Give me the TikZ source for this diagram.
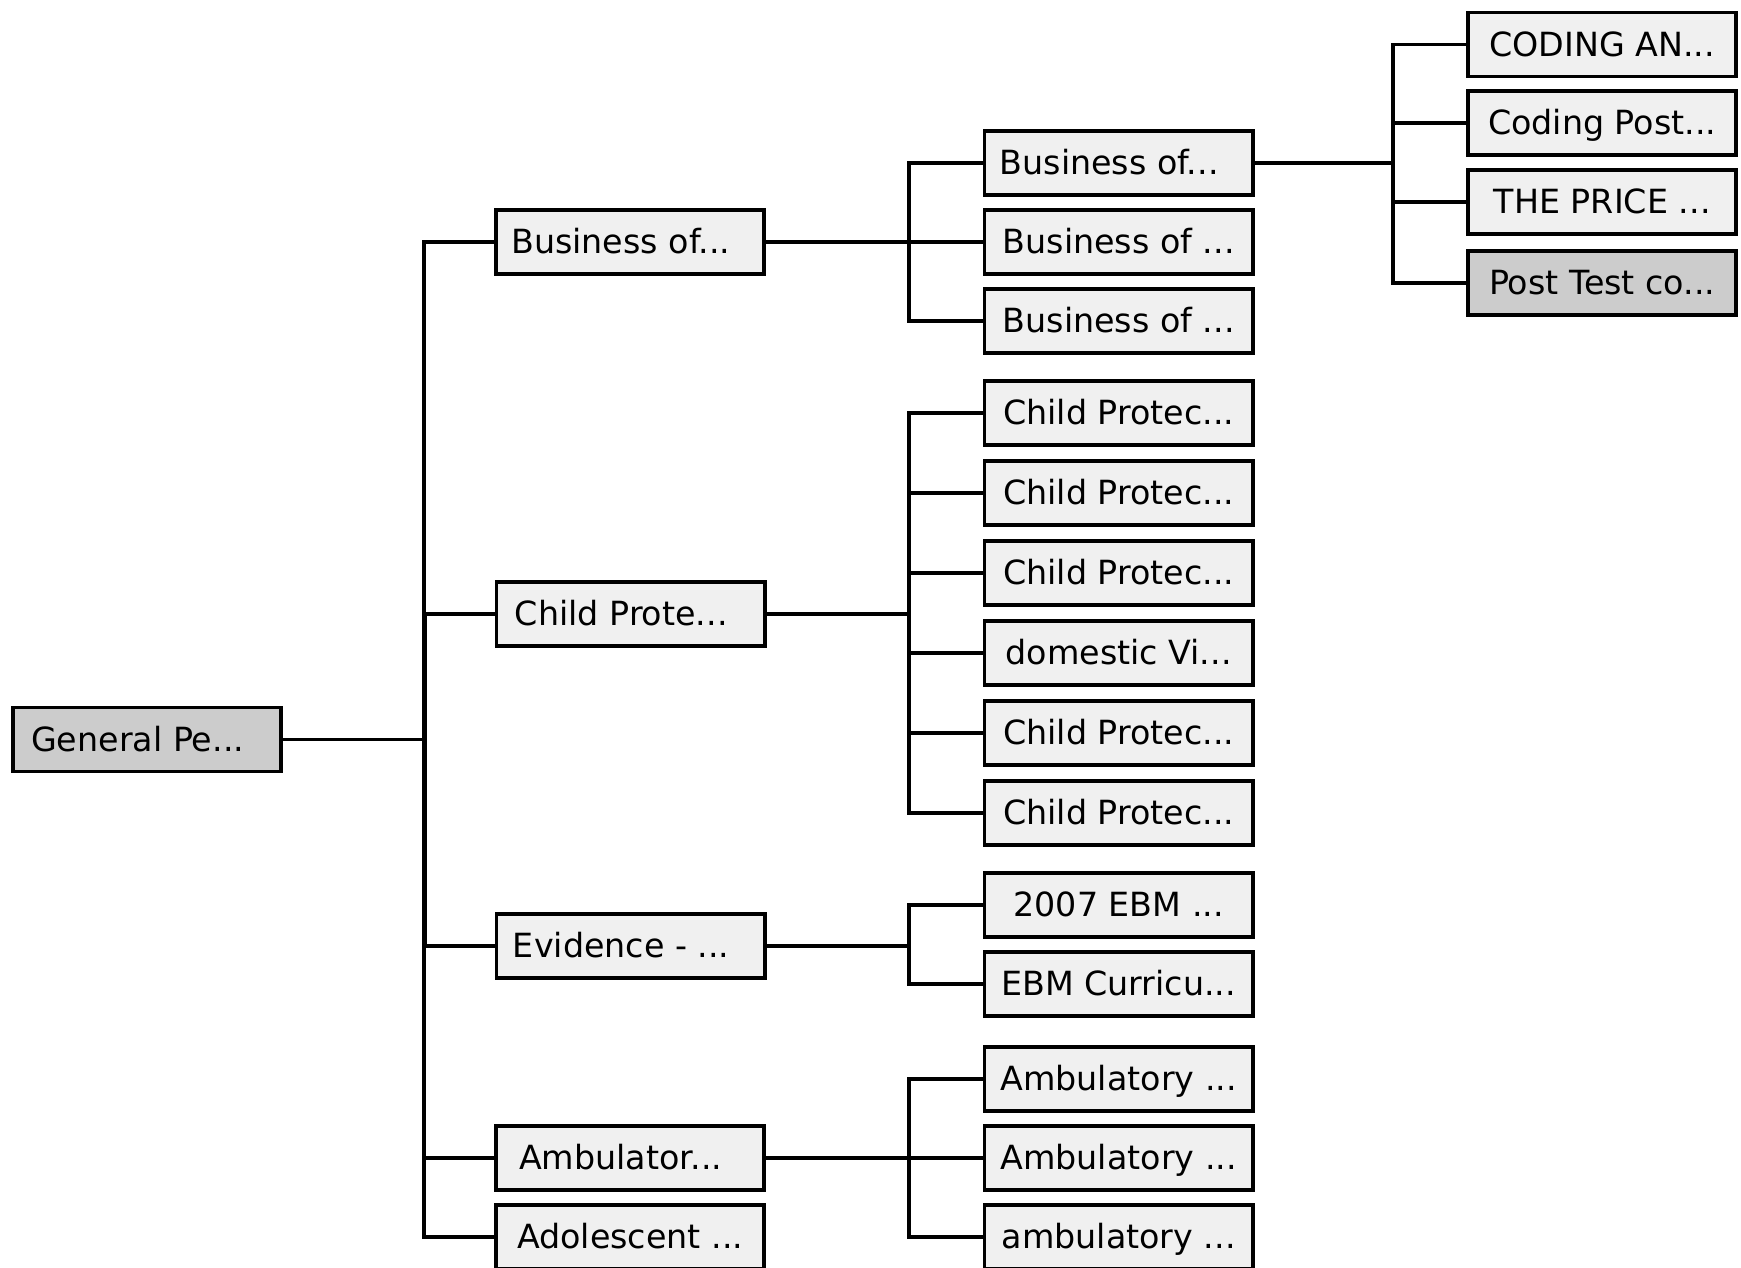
\documentclass[tikz,border=0pt]{standalone}
\usepackage{fontspec}
\setmainfont{DejaVu Sans}
\usepackage{xcolor}
\usepackage{tikz}
\usetikzlibrary{positioning}
\definecolor{nodefill}{RGB}{240,240,240}
\definecolor{selectfill}{RGB}{204,204,204}

\begin{document}
\begin{tikzpicture}[x=1pt, y=-1pt,
    node distance=10pt,
    box/.style={rectangle, draw, line width=3.4pt, fill=nodefill, minimum width=241.6pt, minimum height=57.6pt, inner sep=0pt, align=center, text height=25pt, text depth=4pt, font=\fontsize{30}{36}\selectfont},
    selbox/.style={box, fill=selectfill},
    cut/.style={execute at end node={\hspace*{17pt}}},
    link/.style={line width=3.4pt}
]
\useasboundingbox (0,0) rectangle (1568,1142);
\clip (0,0) rectangle (1568,1142);

% third level
\node[box] (cod1) at (1443,40) {CODING AN...};
\node[box, below=10pt of cod1] (cod2) {Coding Post...};
\node[box, below=10pt of cod2] (cod3) {THE PRICE ...};
\node[selbox, below=12pt of cod3] (cod4) {Post Test co...};

% second level
\node[box, cut] (bus1) at (1007.5,147) {Business of...};
\node[box, below=10pt of bus1] (bus2) {Business of ...};
\node[box, below=10pt of bus2] (bus3) {Business of ...};

\node[box] (chi1) at (1007.5,372) {Child Protec...};
\node[box, below=11pt of chi1] (chi2) {Child Protec...};
\node[box, below=11pt of chi2] (chi3) {Child Protec...};
\node[box, below=11pt of chi3] (chi4) {domestic Vi...};
\node[box, below=11pt of chi4] (chi5) {Child Protec...};
\node[box, below=11pt of chi5] (chi6) {Child Protec...};

\node[box] (ebm1) at (1007.5,815) {2007 EBM ...};
\node[box, below=10pt of ebm1] (ebm2) {EBM Curricu...};

\node[box] (amb1) at (1007.5,972) {Ambulatory ...};
\node[box, below=10pt of amb1] (amb2) {Ambulatory ...};
\node[box, below=10pt of amb2] (amb3) {ambulatory ...};

% first level
\node[box, cut, left=195pt of bus2] (business) {Business of...};
\node[box, cut] (child) at (568,553) {Child Prote...};
\node[box, cut] (evidence) at (568,852) {Evidence - ...};
\node[box, cut, left=195pt of amb2] (ambulatory) {Ambulator...};
\node[box, left=195pt of amb3] (adolescent) {Adolescent ...};

% root
\node[selbox, cut] (general) at (132.5,666) {General Pe...};

\draw[link] (general.east) -| ([xshift=-63pt]business.west) -- (business.west);
\draw[link] (general.east) -| ([xshift=-63pt]child.west) -- (child.west);
\draw[link] (general.east) -| ([xshift=-63pt]evidence.west) -- (evidence.west);
\draw[link] (general.east) -| ([xshift=-63pt]ambulatory.west) -- (ambulatory.west);
\draw[link] (general.east) -| ([xshift=-63pt]adolescent.west) -- (adolescent.west);

\draw[link] (business.east) -| ([xshift=-66pt]bus1.west) -- (bus1.west);
\draw[link] (business.east) -- (bus2.west);
\draw[link] (business.east) -| ([xshift=-66pt]bus3.west) -- (bus3.west);

\draw[link] (child.east) -| ([xshift=-66pt]chi1.west) -- (chi1.west);
\draw[link] (child.east) -| ([xshift=-66pt]chi2.west) -- (chi2.west);
\draw[link] (child.east) -| ([xshift=-66pt]chi3.west) -- (chi3.west);
\draw[link] (child.east) -| ([xshift=-66pt]chi4.west) -- (chi4.west);
\draw[link] (child.east) -| ([xshift=-66pt]chi5.west) -- (chi5.west);
\draw[link] (child.east) -| ([xshift=-66pt]chi6.west) -- (chi6.west);

\draw[link] (evidence.east) -| ([xshift=-66pt]ebm1.west) -- (ebm1.west);
\draw[link] (evidence.east) -| ([xshift=-66pt]ebm2.west) -- (ebm2.west);

\draw[link] (ambulatory.east) -| ([xshift=-66pt]amb1.west) -- (amb1.west);
\draw[link] (ambulatory.east) -- (amb2.west);
\draw[link] (ambulatory.east) -| ([xshift=-66pt]amb3.west) -- (amb3.west);

\draw[link] (bus1.east) -| ([xshift=-66pt]cod1.west) -- (cod1.west);
\draw[link] (bus1.east) -| ([xshift=-66pt]cod2.west) -- (cod2.west);
\draw[link] (bus1.east) -| ([xshift=-66pt]cod3.west) -- (cod3.west);
\draw[link] (bus1.east) -| ([xshift=-66pt]cod4.west) -- (cod4.west);

\end{tikzpicture}
\end{document}
